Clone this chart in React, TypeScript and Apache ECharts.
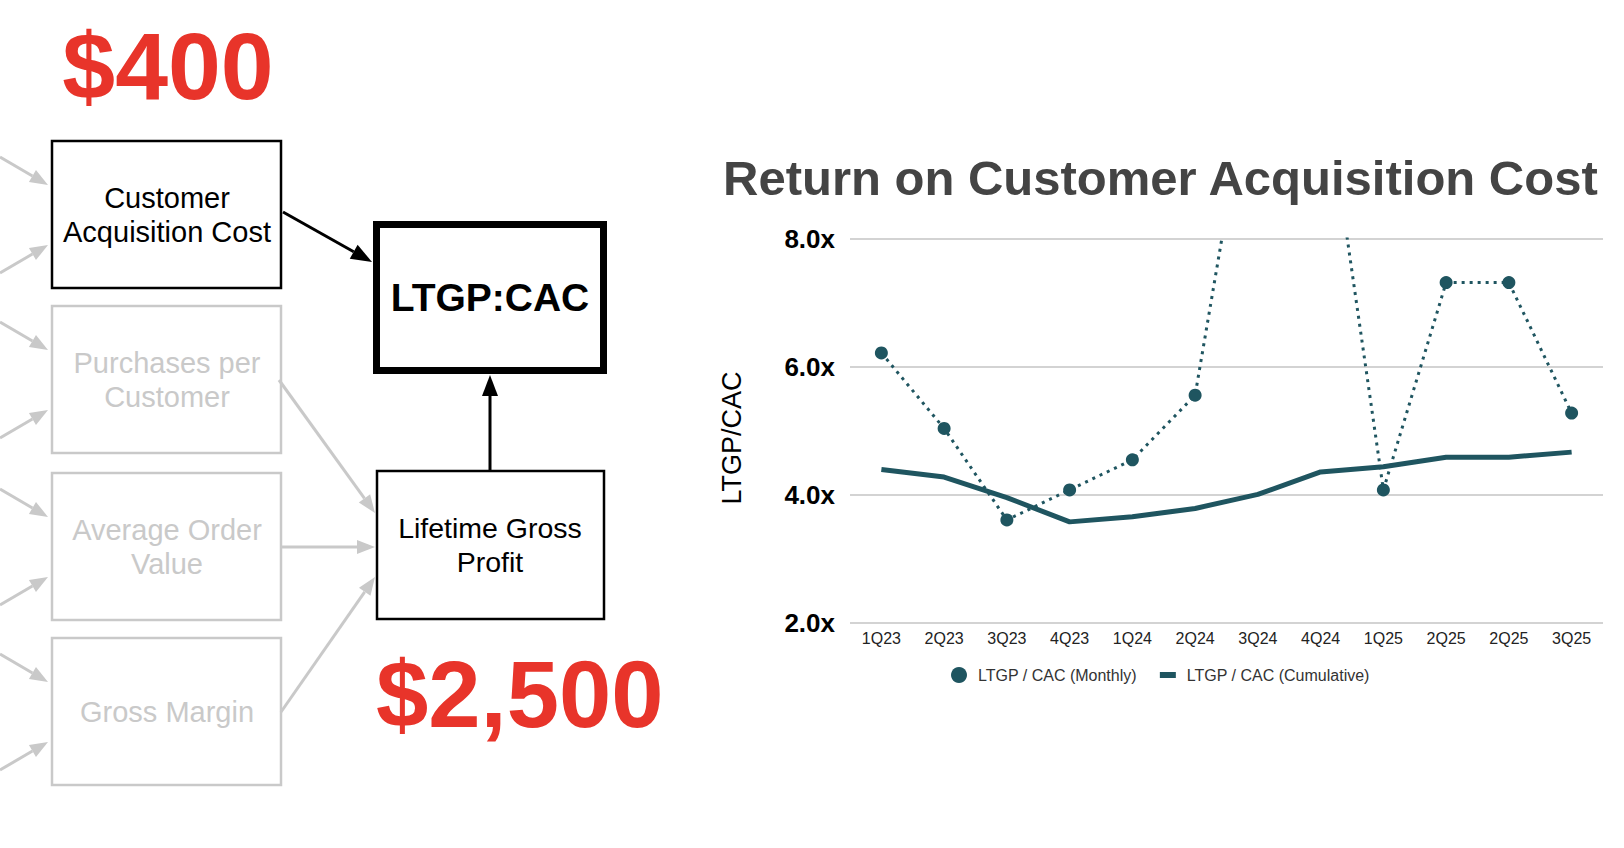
import { useEffect, useRef } from 'react';
import * as echarts from 'echarts';

const categories = ['1Q23', '2Q23', '3Q23', '4Q23', '1Q24', '2Q24', '3Q24', '4Q24', '1Q25', '2Q25', '2Q25', '3Q25'];
const monthly = [6.22, 5.04, 3.61, 4.08, 4.55, 5.56, 11.3, 10.9, 4.08, 7.32, 7.32, 5.28];
const cumulative = [4.4, 4.28, 3.96, 3.58, 3.66, 3.79, 4.01, 4.36, 4.44, 4.59, 4.59, 4.67];
const yMin = 2;
const yMax = 8;
const yStep = 2;

const boxLabels = [
    ['Customer', 'Acquisition Cost'],
    ['Purchases per', 'Customer'],
    ['Average Order', 'Value'],
    ['Gross Margin'],
];
const boxTops = [141, 306, 473, 638];

const FONT = '"Liberation Sans", Arial, Helvetica, sans-serif';
const TEAL = '#1f5560';
const GRAY = '#c9c9c9';
const RED = '#e8342a';

function arrow(x1: number, y1: number, x2: number, y2: number, color: string, lw: number, hl: number, hw: number) {
    const len = Math.hypot(x2 - x1, y2 - y1);
    const ux = (x2 - x1) / len;
    const uy = (y2 - y1) / len;
    const bx = x2 - ux * hl;
    const by = y2 - uy * hl;
    return [
        { type: 'line', shape: { x1, y1, x2: bx, y2: by }, style: { stroke: color, lineWidth: lw } },
        {
            type: 'polygon',
            shape: { points: [[x2, y2], [bx - uy * hw / 2, by + ux * hw / 2], [bx + uy * hw / 2, by - ux * hw / 2]] },
            style: { fill: color },
        },
    ];
}

function txt(x: number, y: number, text: string, size: number, color: string, weight = 'normal', align = 'center') {
    return {
        type: 'text',
        x,
        y,
        style: { text, fontSize: size, fontWeight: weight, fill: color, fontFamily: FONT, align, verticalAlign: 'middle' },
    };
}

const App = () => {
    const chartRef = useRef(null);

    useEffect(() => {
        if (!chartRef.current) return;
        const myChart = echarts.init(chartRef.current, null, { renderer: 'svg' });

        const diagram: any[] = [];
        boxTops.forEach((top, i) => {
            const dark = i === 0;
            diagram.push(...arrow(0, top + 16, 48, top + 44, GRAY, 3, 18, 14));
            diagram.push(...arrow(0, top + 132, 48, top + 104, GRAY, 3, 18, 14));
            diagram.push({
                type: 'rect',
                shape: { x: 52, y: top, width: 229, height: 147 },
                style: { fill: '#fff', stroke: dark ? '#000' : GRAY, lineWidth: 2.5 },
            });
            const lines = boxLabels[i];
            const cy = top + 73.5;
            lines.forEach((l, j) => {
                const y = cy + (j - (lines.length - 1) / 2) * 34;
                diagram.push(txt(167, y, l, 29, dark ? '#000' : GRAY));
            });
        });
        diagram.push(...arrow(279, 380, 375, 513, GRAY, 3, 18, 14));
        diagram.push(...arrow(281, 547, 375, 547, GRAY, 3, 18, 14));
        diagram.push(...arrow(281, 712, 375, 577, GRAY, 3, 18, 14));
        diagram.push(...arrow(283, 212, 372, 262, '#000', 3, 21, 16));
        diagram.push(...arrow(490, 471, 490, 375, '#000', 3, 21, 16));
        diagram.push({
            type: 'rect',
            shape: { x: 376.5, y: 224.5, width: 227, height: 146 },
            style: { fill: '#fff', stroke: '#000', lineWidth: 7 },
        });
        diagram.push(txt(490, 297, 'LTGP:CAC', 39, '#000', 'bold'));
        diagram.push({
            type: 'rect',
            shape: { x: 377, y: 471, width: 227, height: 148 },
            style: { fill: '#fff', stroke: '#000', lineWidth: 2.5 },
        });
        diagram.push(txt(490, 528, 'Lifetime Gross', 28.5, '#000'));
        diagram.push(txt(490, 562, 'Profit', 28.5, '#000'));
        diagram.push(txt(168, 66, '$400', 95, RED, 'bold'));
        diagram.push(txt(376, 694, '$2,500', 94, RED, 'bold', 'left'));
        diagram.push(txt(723, 178, 'Return on Customer Acquisition Cost', 49, '#444', 'bold', 'left'));
        diagram.push({
            type: 'text',
            x: 732,
            y: 438,
            rotation: Math.PI / 2,
            style: { text: 'LTGP/CAC', fontSize: 27, fill: '#000', fontFamily: FONT, align: 'center', verticalAlign: 'middle' },
        });

        const option = {
            animation: false,
            graphic: { elements: diagram },
            legend: {
                left: 946,
                top: 662,
                itemWidth: 16,
                itemHeight: 16,
                itemGap: 23,
                textStyle: { fontSize: 16, color: '#333', fontFamily: FONT, padding: [0, 0, 0, 6] },
                data: [
                    { name: 'LTGP / CAC (Monthly)', icon: 'circle' },
                    { name: 'LTGP / CAC (Cumulative)', icon: 'path://M0,0H16V6H0Z' },
                ],
            },
            grid: { left: 850, right: 21, top: 239, bottom: 225, containLabel: false },
            xAxis: {
                type: 'category',
                data: categories,
                boundaryGap: true,
                axisLine: { show: false },
                axisTick: { show: false },
                axisLabel: { interval: 0, fontSize: 16, color: '#222', fontFamily: FONT, margin: 7 },
            },
            yAxis: {
                type: 'value',
                min: yMin,
                max: yMax,
                interval: yStep,
                axisLine: { show: false },
                axisTick: { show: false },
                axisLabel: {
                    fontSize: 26,
                    fontWeight: 'bold',
                    color: '#000',
                    fontFamily: FONT,
                    margin: 15,
                    formatter: (v: number) => v.toFixed(1) + 'x',
                },
                splitLine: { lineStyle: { color: '#d3d3d3', width: 2 } },
            },
            series: [
                {
                    name: 'LTGP / CAC (Monthly)',
                    type: 'line',
                    data: monthly,
                    symbol: 'circle',
                    symbolSize: 13,
                    itemStyle: { color: TEAL },
                    lineStyle: { color: TEAL, width: 3, type: [3, 5] },
                    clip: true,
                    z: 3,
                },
                {
                    name: 'LTGP / CAC (Cumulative)',
                    type: 'line',
                    data: cumulative,
                    showSymbol: false,
                    symbol: 'none',
                    itemStyle: { color: TEAL },
                    lineStyle: { color: TEAL, width: 5 },
                    z: 2,
                },
            ],
        };

        myChart.setOption(option);

        return () => {
            myChart.dispose();
        };
    }, []);

    return <div ref={chartRef} style={{ position: 'fixed', left: 0, top: 0, width: '1624px', height: '848px', background: '#fff' }} />;
};

export default App;
